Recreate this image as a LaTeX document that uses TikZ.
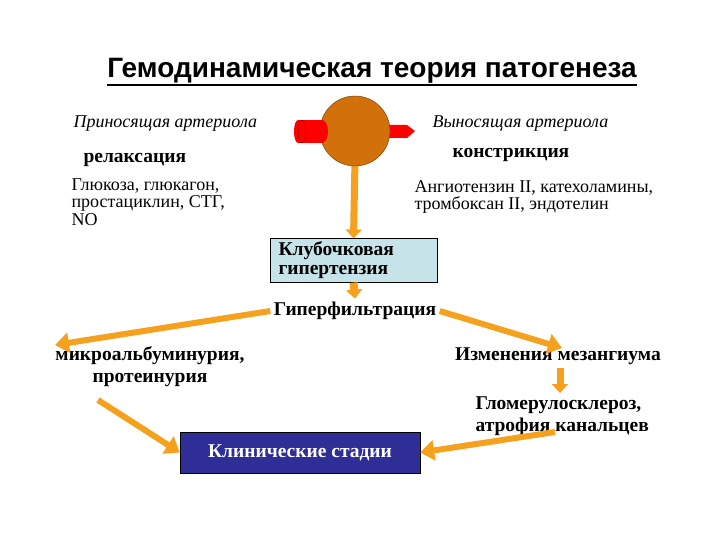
\documentclass[tikz,border=0pt]{standalone}
\usepackage{fontspec}
\setmainfont{Liberation Serif}
\newfontfamily\titlefont{Liberation Sans}
\usetikzlibrary{arrows.meta}
\definecolor{org}{HTML}{F5A11E}
\definecolor{ball}{HTML}{D2700A}
\definecolor{boxb}{HTML}{C5E3E8}
\definecolor{navy}{HTML}{2E2E96}
\tikzset{
  arr/.style={org, line width=6pt, -{Triangle[length=14pt,width=20pt]}},
  sarr/.style={org, line width=7pt, -{Triangle[length=9pt,width=16pt]}},
  it/.style={font=\fontsize{18}{20}\selectfont\itshape, anchor=west},
  txt/.style={font=\fontsize{18}{17.5}\selectfont, align=left, anchor=north west},
  bt/.style={font=\fontsize{19.5}{20}\selectfont\bfseries},
}
\begin{document}
\begin{tikzpicture}[x=1pt,y=-1pt]
\useasboundingbox (0,0) rectangle (720,540);
\fill[white] (0,0) rectangle (720,540);
% title
\node (title)[font=\titlefont\fontsize{28}{30}\selectfont\bfseries] at (372,71) {Гемодинамическая теория патогенеза};
\draw[line width=2pt] (107,85) -- (637,85);
\node (aff)[it] at (70,124) {Приносящая артериола};
\node (eff)[it] at (429,124) {Выносящая артериола};
\node (box1)[draw=black, fill=boxb, minimum width=167pt, minimum height=43pt, font=\fontsize{19.5}{19}\selectfont\bfseries, align=left, text width=150pt] at (353.5,260.5) {Клубочковая\\гипертензия};
\coordinate (c1) at (355,160);
\draw[sarr] (c1) -- (box1.north);
% glomerulus
\fill[red] (298,120) rectangle (322,143);
\fill[red] (298,131.5) ellipse (4 and 11.5);
\draw[red!60!black, thin] (302,131.5) ellipse (4 and 11.5);
\fill[red] (385,125) -- (407,125) -- (415,131) -- (407,138) -- (385,138) -- cycle;
\node (glom)[circle, draw=ball!50!black, fill=ball, minimum size=70pt] at (355,131) {};
\fill[red] (322,131.5) ellipse (6 and 11.5);
\node (rel)[bt, anchor=west] at (80,160) {релаксация};
\node (con)[bt, anchor=west] at (449,155) {констрикция};
\node (lt)[txt] at (68,175) {Глюкоза, глюкагон,\\простациклин, СТГ,\\NO};
\node (rt)[txt] at (411,177) {Ангиотензин II, катехоламины,\\тромбоксан II, эндотелин};
\node (hf)[bt] at (355,311) {Гиперфильтрация};
\draw[sarr, line width=8pt] (box1.south) -- (hf.north);
\node (mau)[bt, align=center, font=\fontsize{19.5}{22}\selectfont\bfseries] at (150,367) {микроальбуминурия,\\протеинурия};
\node (mes)[bt] at (558,356) {Изменения мезангиума};
\node (glo)[bt, align=left, anchor=west, font=\fontsize{19.5}{22}\selectfont\bfseries] at (472,416) {Гломерулосклероз,\\атрофия канальцев};
\node (clin)[fill=navy, draw=black, minimum width=240pt, minimum height=41pt, text=white, font=\fontsize{19.5}{20}\selectfont\bfseries] at (300,452.5) {Клинические стадии};
\draw[arr] (hf.west) -- (55,345);
\draw[arr] (hf.east) -- (562,348);
\draw[sarr] (mes.south -| 560,0) -- (glo.north -| 560,0);
\coordinate (ml) at (98,400);
\draw[arr] (ml) -- (clin.west);
\coordinate (gl) at (555,432);
\draw[arr] (gl) -- (clin.east);
\end{tikzpicture}
\end{document}
